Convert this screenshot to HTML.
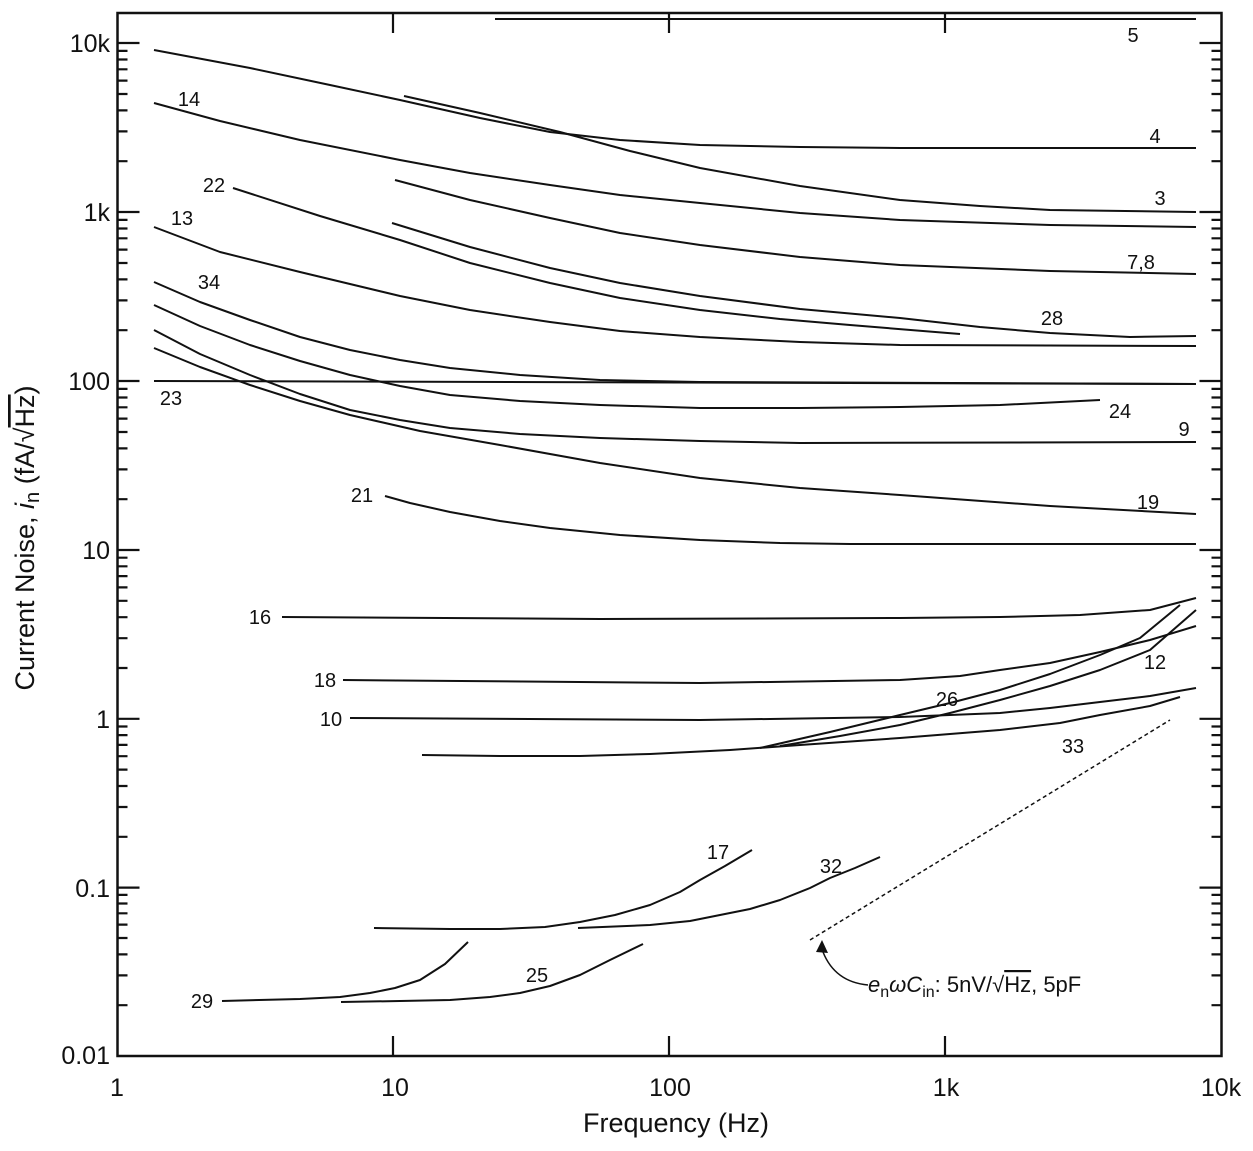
<!DOCTYPE html>
<html><head><meta charset="utf-8"><style>
html,body{margin:0;padding:0;background:#fff}
svg{display:block;font-family:"Liberation Sans",Arial,sans-serif}
</style></head><body>
<svg width="1253" height="1151" viewBox="0 0 1253 1151" xmlns="http://www.w3.org/2000/svg">
<rect x="117.5" y="13" width="1104" height="1043" fill="none" stroke="#111" stroke-width="2.5"/>
<path stroke="#111" stroke-width="2.2" fill="none" d="
M117.5,43h22M117.5,212h22M117.5,381h22M117.5,550h22M117.5,718.8h22M117.5,887.6h22
M1221.5,43h-22M1221.5,212h-22M1221.5,381h-22M1221.5,550h-22M1221.5,718.8h-22M1221.5,887.6h-22
M393,13v20M669,13v20M945,13v20M393,1056v-20M669,1056v-20M945,1056v-20
M117.5,1005.2h10M117.5,975.4h10M117.5,954.4h10M117.5,938h10M117.5,924.6h10M117.5,913.3h10M117.5,903.5h10M117.5,894.9h10
M117.5,836.8h10M117.5,807h10M117.5,786h10M117.5,769.6h10M117.5,756.2h10M117.5,744.9h10M117.5,735.1h10M117.5,726.5h10
M117.5,668h10M117.5,638.2h10M117.5,617.2h10M117.5,600.8h10M117.5,587.4h10M117.5,576.1h10M117.5,566.3h10M117.5,557.7h10
M117.5,499.2h10M117.5,469.4h10M117.5,448.4h10M117.5,432h10M117.5,418.6h10M117.5,407.3h10M117.5,397.5h10M117.5,388.9h10
M117.5,330.2h10M117.5,300.4h10M117.5,279.4h10M117.5,263h10M117.5,249.6h10M117.5,238.3h10M117.5,228.5h10M117.5,219.9h10
M117.5,161.2h10M117.5,131.4h10M117.5,110.4h10M117.5,94h10M117.5,80.6h10M117.5,69.3h10M117.5,59.5h10M117.5,50.9h10
M1221.5,1005.2h-10M1221.5,975.4h-10M1221.5,954.4h-10M1221.5,938h-10M1221.5,924.6h-10M1221.5,913.3h-10M1221.5,903.5h-10M1221.5,894.9h-10
M1221.5,836.8h-10M1221.5,807h-10M1221.5,786h-10M1221.5,769.6h-10M1221.5,756.2h-10M1221.5,744.9h-10M1221.5,735.1h-10M1221.5,726.5h-10
M1221.5,668h-10M1221.5,638.2h-10M1221.5,617.2h-10M1221.5,600.8h-10M1221.5,587.4h-10M1221.5,576.1h-10M1221.5,566.3h-10M1221.5,557.7h-10
M1221.5,499.2h-10M1221.5,469.4h-10M1221.5,448.4h-10M1221.5,432h-10M1221.5,418.6h-10M1221.5,407.3h-10M1221.5,397.5h-10M1221.5,388.9h-10
M1221.5,330.2h-10M1221.5,300.4h-10M1221.5,279.4h-10M1221.5,263h-10M1221.5,249.6h-10M1221.5,238.3h-10M1221.5,228.5h-10M1221.5,219.9h-10
M1221.5,161.2h-10M1221.5,131.4h-10M1221.5,110.4h-10M1221.5,94h-10M1221.5,80.6h-10M1221.5,69.3h-10M1221.5,59.5h-10M1221.5,50.9h-10"/>
<g fill="#111" font-size="25" text-anchor="end">
<text x="110" y="52">10k</text><text x="110" y="221">1k</text><text x="110" y="390">100</text>
<text x="110" y="559">10</text><text x="110" y="728">1</text><text x="110" y="897">0.1</text><text x="110" y="1064">0.01</text>
</g>
<g fill="#111" font-size="25" text-anchor="middle">
<text x="117" y="1096">1</text><text x="395" y="1096">10</text><text x="670" y="1096">100</text><text x="946" y="1096">1k</text><text x="1221" y="1096">10k</text>
<text x="676" y="1132" font-size="27">Frequency (Hz)</text>
</g>
<text transform="translate(34,538) rotate(-90)" text-anchor="middle" font-size="27" fill="#111">Current Noise, <tspan font-style="italic">i</tspan><tspan font-size="20" dy="5">n</tspan><tspan dy="-5">  (fA/√<tspan text-decoration="overline">Hz</tspan>)</tspan></text>
<g fill="none" stroke="#111" stroke-width="2" stroke-linejoin="round">
<polyline points="495,19 1196,19"/>
<polyline points="154,50 250,68 330,85 400,100 480,118 550,132 620,140 700,145 800,147 900,148 1196,148"/>
<polyline points="404,96 480,113 560,132 630,151 700,168 800,186 900,200 980,206 1050,210 1196,212"/>
<polyline points="154,103 220,121 300,140 400,160 470,173 550,185 620,195 700,203 800,213 900,220 1050,225 1196,227"/>
<polyline points="395,180 470,200 550,218 620,233 700,245 800,257 900,265 1050,271 1196,274"/>
<polyline points="233,188 320,216 400,240 470,263 550,283 620,298 700,310 780,319 850,325 960,334"/>
<polyline points="392,223 470,247 550,268 620,283 700,296 800,309 900,318 980,327 1050,333 1130,337 1196,336"/>
<polyline points="154,227 220,252 300,272 400,296 470,310 550,322 620,331 700,337 800,342 900,345 1196,346"/>
<polyline points="154,282 200,302 250,320 300,337 350,350 400,360 450,368 520,375 600,380 700,382 1196,384"/>
<polyline points="154,305 200,326 250,345 300,361 350,375 400,386 450,395 520,401 600,405 700,408 800,408 900,407 1000,405 1100,400"/>
<polyline points="154,330 200,354 250,375 300,394 350,410 400,420 450,428 520,434 600,438 700,441 800,443 1196,442"/>
<polyline points="154,381 1196,384"/>
<polyline points="154,348 200,367 250,385 300,401 350,415 420,431 500,445 600,463 700,478 800,488 900,495 1050,506 1196,514"/>
<polyline points="385,496 410,503 450,512 500,521 550,528 620,535 700,540 780,543 850,544 1196,544"/>
<polyline points="282,617 600,619 900,618 1000,617 1080,615 1150,610 1196,598"/>
<polyline points="343,680 700,683 900,680 960,676 1000,670 1050,663 1100,652 1150,640 1196,626"/>
<polyline points="760,748 830,732 900,715 950,703 1000,690 1050,674 1100,655 1140,638 1180,605"/>
<polyline points="780,746 840,736 900,725 950,713 1000,700 1050,686 1100,670 1150,650 1196,610"/>
<polyline points="350,718 700,720 900,717 1000,713 1050,708 1100,702 1150,696 1196,688"/>
<polyline points="422,755 500,756 580,756 650,754 730,750 800,745 900,738 1000,730 1060,723 1100,715 1150,706 1180,697"/>
<polyline points="374,928 450,929 500,929 545,927 580,922 615,915 650,905 680,892 700,880 725,866 752,850"/>
<polyline points="578,928 650,925 690,921 720,915 750,909 780,900 810,888 830,878 855,868 880,857"/>
<polyline points="222,1001 300,999 340,997 370,993 395,988 420,980 445,964 468,942"/>
<polyline points="341,1002 400,1001 450,1000 490,997 520,993 550,986 580,975 610,960 643,944"/>
</g>
<line x1="810" y1="940" x2="1170" y2="720" stroke="#111" stroke-width="1.5" stroke-dasharray="4,3"/>
<path d="M868,985 Q835,982 823,952" fill="none" stroke="#111" stroke-width="1.5"/>
<path d="M816,952 L822,940 L828,953 Z" fill="#111"/>
<g fill="#111" font-size="20" text-anchor="middle">
<text x="1133" y="42">5</text><text x="1155" y="143">4</text><text x="1160" y="205">3</text><text x="1141" y="269">7,8</text>
<text x="189" y="106">14</text><text x="214" y="192">22</text><text x="182" y="225">13</text><text x="209" y="289">34</text>
<text x="1052" y="325">28</text><text x="171" y="405">23</text><text x="1120" y="418">24</text><text x="1184" y="436">9</text>
<text x="1148" y="509">19</text><text x="362" y="502">21</text><text x="260" y="624">16</text><text x="325" y="687">18</text>
<text x="331" y="726">10</text><text x="947" y="706">26</text><text x="1155" y="669">12</text><text x="1073" y="753">33</text>
<text x="718" y="859">17</text><text x="831" y="873">32</text><text x="202" y="1008">29</text><text x="537" y="982">25</text>
</g>
<text x="868" y="992" font-size="22" fill="#111"><tspan font-style="italic">e</tspan><tspan font-size="16" dy="5">n</tspan><tspan dy="-5" font-style="italic">ωC</tspan><tspan font-size="16" dy="5">in</tspan><tspan dy="-5">: 5nV/√<tspan text-decoration="overline">Hz</tspan>, 5pF</tspan></text>
</svg>
</body></html>
